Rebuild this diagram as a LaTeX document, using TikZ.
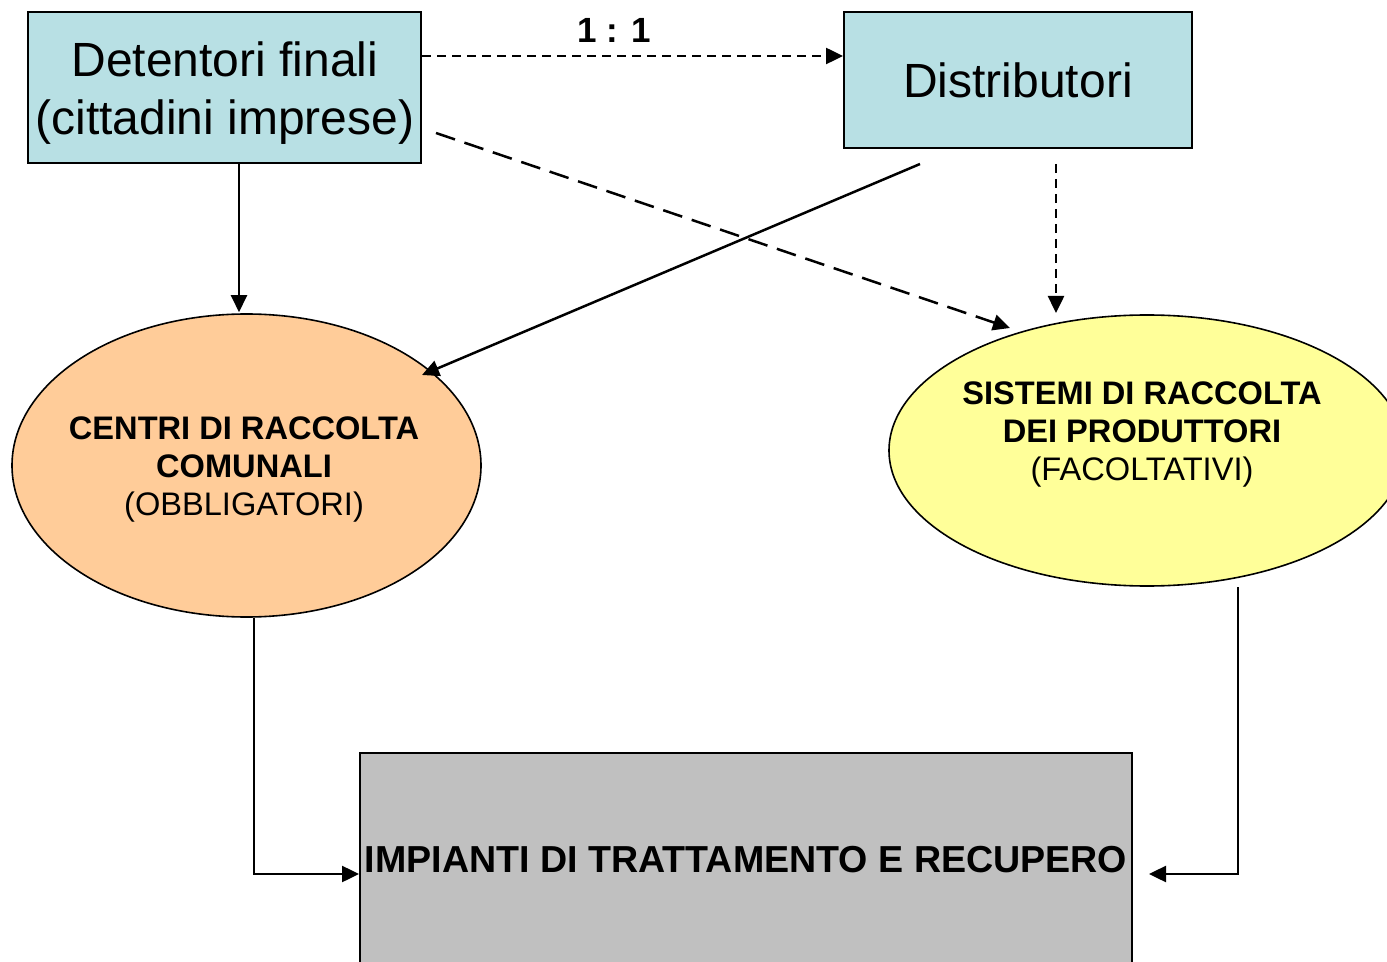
\documentclass[tikz,border=0pt]{standalone}
\usepackage{fontspec}
\setmainfont{Liberation Sans}
\usetikzlibrary{shapes.geometric,arrows.meta,calc}
\definecolor{boxblue}{RGB}{184,224,228}
\definecolor{peach}{RGB}{255,204,153}
\definecolor{paleyellow}{RGB}{255,255,153}
\definecolor{boxgray}{RGB}{192,192,192}
\begin{document}
\begin{tikzpicture}[x=0.5pt,y=-0.5pt,
  bluebox/.style={draw, line width=1pt, fill=boxblue, inner sep=0pt, align=center,
    font=\fontsize{24}{29}\selectfont},
  ell/.style={ellipse, draw, line width=0.8pt, inner sep=0pt},
  etext/.style={align=center, inner sep=0pt, font=\fontsize{16.3}{19}\selectfont},
  conn/.style={line width=1.25pt, -{Triangle[length=8.5pt,width=8pt]}},
  shortdash/.style={dash pattern=on 4.5pt off 3pt},
  longdash/.style={dash pattern=on 10pt off 5pt}]
\useasboundingbox (0,0) rectangle (1387,962);

% boxes
\node[bluebox, minimum width=196.5pt, minimum height=75.5pt] (det) at (224.5,87.5) {};
\node[align=center, inner sep=0pt, font=\fontsize{24}{29}\selectfont] (dettext) at (225,93)
  {Detentori finali\\(cittadini imprese)};
\node[bluebox, minimum width=174pt, minimum height=68pt] (dist) at (1018,80) {Distributori};

% ellipses
\node[ell, fill=peach, minimum width=234.5pt, minimum height=151.5pt] (crc) at (246.5,465.5) {};
\node[etext] (crctext) at (244,469)
  {\textbf{CENTRI DI RACCOLTA}\\\textbf{COMUNALI}\\(OBBLIGATORI)};
\node[ell, fill=paleyellow, minimum width=258pt, minimum height=135.5pt] (sdr) at (1147,450.5) {};
\node[etext] (sdrtext) at (1142,434)
  {\textbf{SISTEMI DI RACCOLTA}\\\textbf{DEI PRODUTTORI}\\(FACOLTATIVI)};

% bottom box
\node[draw, line width=1pt, fill=boxgray, minimum width=386pt, minimum height=130pt, inner sep=0pt]
  (imp) at (746,883) {};
\node[anchor=base, inner sep=0pt, font=\bfseries\fontsize{18.8}{22}\selectfont] (imptext) at (746,872)
  {IMPIANTI DI TRATTAMENTO E RECUPERO};

% ratio label
\node[anchor=base, inner sep=0pt, font=\bfseries\fontsize{17.5}{21}\selectfont] (ratio) at (614,43) {1 : 1};

% connector end points
\coordinate (sdrin) at (1010,328);
\coordinate (crcin) at (422,375);
\coordinate (sdrtop) at (1056,313);

% connectors
\draw[conn, shortdash] ($(det.north east)+(0,45)$) -- ($(dist.north west)+(0,45)$);
\draw[conn, longdash] ($(det.east)+(14,45.5)$) -- (sdrin);
\draw[conn] ($(dist.south)+(-98,15)$) -- (crcin);
\draw[conn, shortdash] ($(dist.south)+(38,15)$) -- (sdrtop);
\draw[conn] ($(det.south)+(14.5,0)$) -- ($(crc.north)+(-7.5,-1)$);
\draw[conn] ($(crc.south)+(7.5,0)$) |- ($(imp.west)+(0,-9)$);
\draw[conn] ($(sdr.south)+(91,0.5)$) |- ($(imp.east)+(16,-9)$);
\end{tikzpicture}
\end{document}
